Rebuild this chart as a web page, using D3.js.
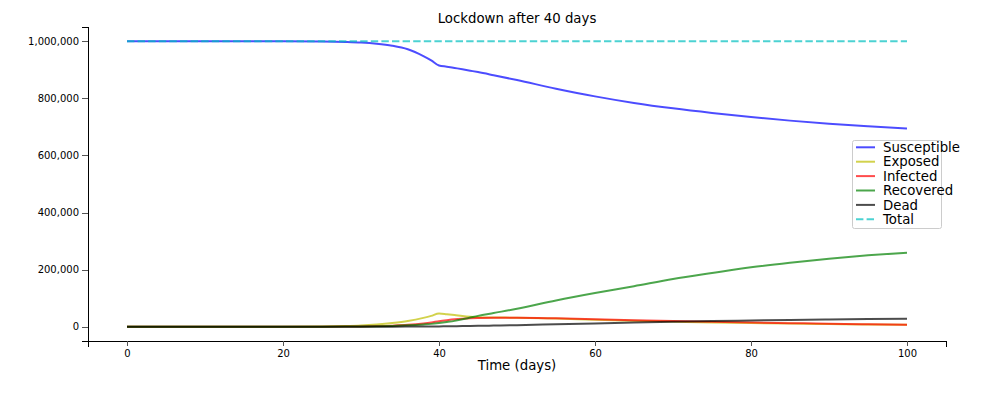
<!DOCTYPE html>
<html lang="en">
<head>
<meta charset="utf-8">
<title>Lockdown after 40 days</title>
<script src="https://d3js.org/d3.v7.min.js"></script>
<style>
    body { margin: 0; background: #fff; }
    svg text { font-family: "DejaVu Sans", sans-serif; fill: #000; }
</style>
</head>
<body>
<script>
// days the values were read at (denser around the lockdown on day 40)
var days        = [0, 5, 10, 15, 20, 25, 28, 30, 32, 34, 36, 38, 39, 40, 41, 42, 43, 44, 45, 47, 50, 55, 60, 65, 70, 75, 80, 85, 90, 95, 100];
var susceptible = [1000000, 1000000, 999990, 999950, 999800, 999000, 997500, 995500, 991500, 984500, 972000, 948000, 933000, 915000, 911000, 906500, 902000, 897000, 892000, 881000, 864000, 834000, 807000, 784000, 765000, 749000, 735000, 722000, 711000, 702000, 694000];
var exposed     = [0, 0, 10, 40, 150, 1000, 2500, 4500, 8000, 13000, 20000, 31000, 38000, 46500, 44000, 41000, 37500, 35000, 33500, 32500, 31500, 28500, 24500, 21000, 18000, 15000, 12800, 11000, 9500, 8000, 7000];
var infected    = [0, 0, 0, 10, 50, 300, 700, 1200, 2200, 3800, 6500, 11500, 15000, 19500, 23000, 26000, 28000, 29500, 30500, 31500, 31500, 29500, 26500, 23000, 20000, 17000, 14500, 12500, 10500, 8800, 7200];
var recovered   = [0, 0, 0, 5, 30, 200, 500, 900, 1600, 2800, 4800, 8000, 10000, 13000, 16500, 20500, 26000, 32000, 38000, 48000, 63000, 92000, 118000, 142000, 167000, 188000, 208000, 224000, 238000, 250000, 259500];
var dead        = [0, 0, 0, 0, 0, 20, 40, 60, 100, 200, 400, 700, 900, 1200, 1500, 1900, 2300, 2600, 3000, 4000, 5500, 8500, 11500, 14500, 17500, 20000, 22000, 24000, 25500, 26800, 28000];
var total       = [1000000, 1000000, 1000000, 1000000, 1000000, 1000000, 1000000, 1000000, 1000000, 1000000, 1000000, 1000000, 1000000, 1000000, 1000000, 1000000, 1000000, 1000000, 1000000, 1000000, 1000000, 1000000, 1000000, 1000000, 1000000, 1000000, 1000000, 1000000, 1000000, 1000000, 1000000];

var seriesNames  = ["Susceptible", "Exposed", "Infected", "Recovered", "Dead", "Total"];
var seriesValues = [susceptible, exposed, infected, recovered, dead, total];
var seriesColors = ["#0000ff", "#bfbf00", "#ff0000", "#008000", "#000000", "#00bfbf"];
var xTicks = [0, 20, 40, 60, 80, 100];
var yTicks = [0, 200000, 400000, 600000, 800000, 1000000];

var w = 1000;
var h = 394;
var margin = {top: 27, right: 54, bottom: 53, left: 88};

var svg = d3.select("body").append("svg").attr("width", w).attr("height", h);

var xscale = d3.scaleLinear().domain([-5, 105]).range([margin.left, w - margin.right]);
var yscale = d3.scaleLinear().domain([-50000, 1050000]).range([h - margin.bottom, margin.top]);

// lines first, axes drawn on top like the original
var line = d3.line()
    .x(function (d) { return xscale(d[0]); })
    .y(function (d) { return yscale(d[1]); })
    .curve(d3.curveMonotoneX);

seriesValues.forEach(function (vals, k) {
    var pts = days.map(function (d, i) { return [d, vals[i]]; });
    svg.append("path")
       .attr("d", line(pts))
       .attr("fill", "none")
       .attr("stroke", seriesColors[k])
       .attr("stroke-opacity", 0.7)
       .attr("stroke-width", 2)
       .attr("stroke-dasharray", seriesNames[k] === "Total" ? "7.4,3.2" : null);
});

var xAxis = svg.append("g")
    .attr("transform", "translate(0," + (h - margin.bottom) + ")")
    .call(d3.axisBottom(xscale).tickValues(xTicks).tickSize(5).tickSizeOuter(6).tickPadding(4));
var yAxis = svg.append("g")
    .attr("transform", "translate(" + margin.left + ",0)")
    .call(d3.axisLeft(yscale).tickValues(yTicks).tickFormat(d3.format(",")).tickSize(6).tickSizeOuter(6).tickPadding(3));

[xAxis, yAxis].forEach(function (ax) {
    ax.selectAll("path").attr("stroke", "#000").attr("shape-rendering", "crispEdges");
    ax.selectAll("line").attr("stroke", "#555").attr("shape-rendering", "crispEdges");
    ax.selectAll("text").attr("font-size", "10px").attr("font-family", "DejaVu Sans, sans-serif").attr("fill", "#000");
});
yAxis.select("path").attr("stroke-width", 1.6);

svg.append("text")
   .attr("x", (margin.left + w - margin.right) / 2)
   .attr("y", 22.5)
   .attr("text-anchor", "middle")
   .attr("font-size", "13.3px")
   .text("Lockdown after 40 days");

svg.append("text")
   .attr("x", (margin.left + w - margin.right) / 2)
   .attr("y", 369.5)
   .attr("text-anchor", "middle")
   .attr("font-size", "13.3px")
   .text("Time (days)");

// legend box, upper right
var legend = svg.append("g");
legend.append("rect")
      .attr("x", 852.5).attr("y", 140.5)
      .attr("width", 89).attr("height", 88)
      .attr("rx", 2)
      .attr("fill", "#fff").attr("fill-opacity", 0.8)
      .attr("stroke", "#ccc");

var rowY = 147.3;
var rowStep = 14.4;
seriesNames.forEach(function (name, k) {
    var y = rowY + k * rowStep;
    legend.append("line")
          .attr("x1", 856).attr("x2", 875)
          .attr("y1", y).attr("y2", y)
          .attr("stroke", seriesColors[k])
          .attr("stroke-opacity", 0.7)
          .attr("stroke-width", 2)
          .attr("stroke-dasharray", name === "Total" ? "7.4,3.2" : null);
    legend.append("text")
          .attr("x", 883).attr("y", y)
          .attr("dy", "0.35em")
          .attr("font-size", "13.3px")
          .text(name);
});
</script>
</body>
</html>
